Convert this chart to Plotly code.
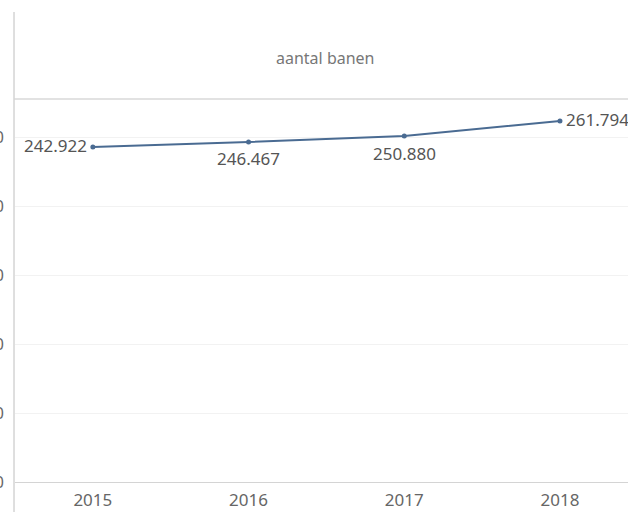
import plotly.graph_objects as go

years = ["2015", "2016", "2017", "2018"]
banen = [242922, 246467, 250880, 261794]
y_ticks = [0, 50000, 100000, 150000, 200000, 250000]
title_text = "aantal banen"

# label placement (style only): anchor and pixel offsets per point
label_xanchor = ["right", "center", "center", "left"]
label_xshift = [-4, 0, 0, 4]
label_yshift = [1, -16, -18, 1]

line_color = "#4a6b92"
text_color = "#555555"
font_family = "Noto Sans, Open Sans, sans-serif"

fig = go.Figure()
fig.add_trace(go.Scatter(
    x=years, y=banen,
    mode="lines+markers",
    line=dict(color=line_color, width=2),
    marker=dict(color=line_color, size=5),
    cliponaxis=False,
    hoverinfo="skip",
))

annotations = [
    dict(text=title_text, xref="paper", yref="paper",
         x=0.506, y=1.107, xanchor="center", yanchor="middle",
         showarrow=False,
         font=dict(size=16, color="#777777", family=font_family)),
]
for i, v in enumerate(banen):
    annotations.append(dict(
        x=i, y=v, xref="x", yref="y",   # category index on the category axis
        text=f"{v:,}".replace(",", "."),
        showarrow=False,
        xanchor=label_xanchor[i], yanchor="middle",
        xshift=label_xshift[i], yshift=label_yshift[i],
        font=dict(size=17, color=text_color, family=font_family),
    ))

fig.update_layout(
    width=628, height=512,
    margin=dict(l=15, r=0, t=99, b=30),
    paper_bgcolor="white", plot_bgcolor="white",
    showlegend=False,
    separators=",.",
    font=dict(family=font_family, color=text_color),
    xaxis=dict(
        type="category", range=[-0.5, 3.437],
        automargin=False,
        showgrid=False, zeroline=False,
        showline=True, linecolor="#d4d4d4", linewidth=1,
        ticks="", tickfont=dict(size=17, color="#666666"),
        ticklabelstandoff=3,
    ),
    yaxis=dict(
        range=[0, 277700],
        automargin=False,
        tickvals=y_ticks,
        tickformat=",.0f",
        showgrid=True, gridcolor="#f2f2f2", gridwidth=1,
        zeroline=False, showline=False,
        ticks="", tickfont=dict(size=16, color="#666666"),
        ticklabelstandoff=10,
    ),
    shapes=[
        dict(type="line", xref="paper", yref="paper",
             x0=-0.0016, x1=1.0, y0=1.0, y1=1.0,
             line=dict(color="#d9d9d9", width=1.5)),
        dict(type="line", xref="paper", yref="paper",
             x0=-0.0016, x1=-0.0016, y0=1.227, y1=-0.08,
             line=dict(color="#d4d4d4", width=1.5)),
    ],
    annotations=annotations,
)

fig.write_html("out.html", config={"displayModeBar": False},
               post_script="document.body.style.margin='0';")
